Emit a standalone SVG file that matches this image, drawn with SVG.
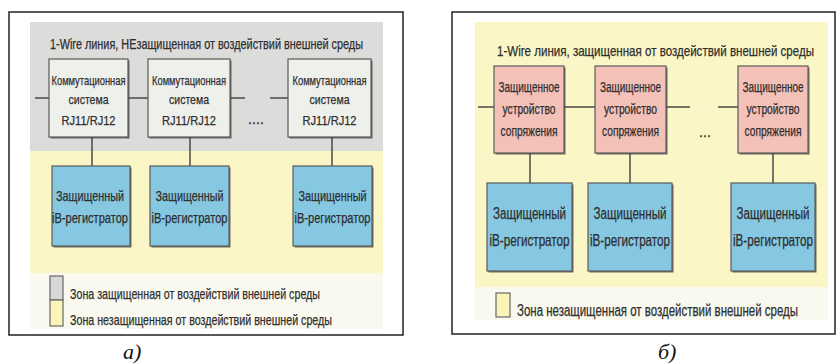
<svg xmlns="http://www.w3.org/2000/svg" width="837" height="363" viewBox="0 0 837 363">
<style>
.frame{fill:#fff;stroke:#222;stroke-width:1.5}
.t{font-family:"Liberation Sans Narrow","Liberation Sans",Arial,sans-serif;fill:#2e2e2e;text-anchor:middle;stroke:#2e2e2e;stroke-width:0.25}
.sw{fill:#3f3f3f;opacity:0.75}
.gbox{fill:#eef0ec;stroke:#5a5a5a;stroke-width:1.2}
.pbox{fill:#f4c1b9;stroke:#5a5a5a;stroke-width:1.2}
.bbox{fill:#86c7e2;stroke:#5a5a5a;stroke-width:1.2}
.ln{stroke:#4a4a4a;stroke-width:1.5;fill:none}
.cap{font-family:"Liberation Serif","Times New Roman",serif;font-style:italic;font-size:22px;fill:#111}
</style>
<rect x="0" y="0" width="837" height="363" fill="#fff"/>
<!-- Panel a -->
<g id="panel-a">
<rect class="frame" x="9" y="12" width="394" height="323"/>
<rect x="30" y="22" width="353" height="129" fill="#dcdcdb"/>
<rect x="30" y="151" width="353" height="122" fill="#faf6c6"/>
<rect x="30" y="273" width="353" height="56" fill="#f9f9f0"/>
<text class="t" x="206.5" y="49" font-size="15" textLength="313" lengthAdjust="spacingAndGlyphs">1-Wire линия,  НЕзащищенная от воздействий внешней среды</text>
</g>
<g id="connectors-a">
<line class="ln" x1="35" y1="98" x2="49" y2="98"/>
<line class="ln" x1="128" y1="98" x2="148" y2="98"/>
<line class="ln" x1="230" y1="98" x2="245" y2="98"/>
<line class="ln" x1="270" y1="98" x2="288" y2="98"/>
<line class="ln" x1="92" y1="137" x2="92" y2="166"/>
<line class="ln" x1="190" y1="137" x2="190" y2="166"/>
<line class="ln" x1="332" y1="137" x2="332" y2="166"/>
</g>
<text class="t" x="256" y="124" font-size="14" textLength="16" lengthAdjust="spacingAndGlyphs">....</text>
<g id="a-sw1"><rect class="sw" x="50.5" y="60.5" width="79" height="78"/><rect class="gbox" x="49" y="59" width="79" height="78"/>
<text class="t" font-size="13"><tspan x="88.5" y="85" textLength="74" lengthAdjust="spacingAndGlyphs">Коммутационная</tspan><tspan x="88.5" y="104" textLength="40" lengthAdjust="spacingAndGlyphs">система</tspan><tspan x="88.5" y="125" textLength="54" lengthAdjust="spacingAndGlyphs">RJ11/RJ12</tspan></text></g>
<g id="a-sw2"><rect class="sw" x="149.5" y="60.5" width="82" height="78"/><rect class="gbox" x="148" y="59" width="82" height="78"/>
<text class="t" font-size="13"><tspan x="189" y="85" textLength="74" lengthAdjust="spacingAndGlyphs">Коммутационная</tspan><tspan x="189" y="104" textLength="40" lengthAdjust="spacingAndGlyphs">система</tspan><tspan x="189" y="125" textLength="54" lengthAdjust="spacingAndGlyphs">RJ11/RJ12</tspan></text></g>
<g id="a-sw3"><rect class="sw" x="289.5" y="60.5" width="83" height="78"/><rect class="gbox" x="288" y="59" width="83" height="78"/>
<text class="t" font-size="13"><tspan x="329.5" y="85" textLength="74" lengthAdjust="spacingAndGlyphs">Коммутационная</tspan><tspan x="329.5" y="104" textLength="40" lengthAdjust="spacingAndGlyphs">система</tspan><tspan x="329.5" y="125" textLength="54" lengthAdjust="spacingAndGlyphs">RJ11/RJ12</tspan></text></g>
<g id="a-reg1"><rect class="sw" x="53.5" y="167.5" width="78" height="80"/><rect class="bbox" x="52" y="166" width="78" height="80"/>
<text class="t" font-size="15"><tspan x="90" y="201" textLength="68" lengthAdjust="spacingAndGlyphs">Защищенный</tspan><tspan x="90" y="223" textLength="76" lengthAdjust="spacingAndGlyphs">iB-регистратор</tspan></text></g>
<g id="a-reg2"><rect class="sw" x="151.5" y="167.5" width="79" height="80"/><rect class="bbox" x="150" y="166" width="79" height="80"/>
<text class="t" font-size="15"><tspan x="189.5" y="201" textLength="68" lengthAdjust="spacingAndGlyphs">Защищенный</tspan><tspan x="189.5" y="223" textLength="76" lengthAdjust="spacingAndGlyphs">iB-регистратор</tspan></text></g>
<g id="a-reg3"><rect class="sw" x="294.5" y="167.5" width="79" height="80"/><rect class="bbox" x="293" y="166" width="79" height="80"/>
<text class="t" font-size="15"><tspan x="332.5" y="201" textLength="68" lengthAdjust="spacingAndGlyphs">Защищенный</tspan><tspan x="332.5" y="223" textLength="76" lengthAdjust="spacingAndGlyphs">iB-регистратор</tspan></text></g>
<g id="a-legend">
<rect x="50" y="276" width="13" height="24" fill="#d8d8d8" stroke="#666" stroke-width="1.2"/>
<rect x="50" y="300" width="13" height="26" fill="#faf4b8" stroke="#666" stroke-width="1.2"/>
<text class="t" x="195" y="299" font-size="15" textLength="250" lengthAdjust="spacingAndGlyphs">Зона защищенная от воздействий внешней среды</text>
<text class="t" x="201" y="325" font-size="15" textLength="262" lengthAdjust="spacingAndGlyphs">Зона незащищенная от воздействий внешней среды</text>
</g>
<text class="cap" x="123" y="359">а)</text>
<!-- Panel b -->
<g id="panel-b">
<rect class="frame" x="452" y="12" width="383" height="322"/>
<rect x="475" y="22" width="353" height="265" fill="#faf6c6"/>
<rect x="475" y="287" width="353" height="33" fill="#f9f9f0"/>
<text class="t" x="655.5" y="56" font-size="14.5" textLength="317" lengthAdjust="spacingAndGlyphs">1-Wire линия, защищенная от воздействий внешней среды</text>
</g>
<g id="connectors-b">
<line class="ln" x1="478" y1="107" x2="494" y2="107"/>
<line class="ln" x1="564" y1="107" x2="595" y2="107"/>
<line class="ln" x1="666" y1="107" x2="690" y2="107"/>
<line class="ln" x1="718" y1="107" x2="738" y2="107"/>
<line class="ln" x1="530" y1="153" x2="530" y2="183"/>
<line class="ln" x1="630" y1="153" x2="630" y2="183"/>
<line class="ln" x1="773" y1="153" x2="773" y2="183"/>
</g>
<text class="t" x="705" y="137" font-size="14" textLength="12" lengthAdjust="spacingAndGlyphs">...</text>
<g id="b-dev1"><rect class="sw" x="495.5" y="67.5" width="70" height="87"/><rect class="pbox" x="494" y="66" width="70" height="87"/>
<text class="t" font-size="14"><tspan x="529" y="92" textLength="61" lengthAdjust="spacingAndGlyphs">Защищенное</tspan><tspan x="529" y="114" textLength="53" lengthAdjust="spacingAndGlyphs">устройство</tspan><tspan x="529" y="136" textLength="57" lengthAdjust="spacingAndGlyphs">сопряжения</tspan></text></g>
<g id="b-dev2"><rect class="sw" x="596.5" y="67.5" width="71" height="87"/><rect class="pbox" x="595" y="66" width="71" height="87"/>
<text class="t" font-size="14"><tspan x="630.5" y="92" textLength="61" lengthAdjust="spacingAndGlyphs">Защищенное</tspan><tspan x="630.5" y="114" textLength="53" lengthAdjust="spacingAndGlyphs">устройство</tspan><tspan x="630.5" y="136" textLength="57" lengthAdjust="spacingAndGlyphs">сопряжения</tspan></text></g>
<g id="b-dev3"><rect class="sw" x="739.5" y="67.5" width="70" height="87"/><rect class="pbox" x="738" y="66" width="70" height="87"/>
<text class="t" font-size="14"><tspan x="773" y="92" textLength="61" lengthAdjust="spacingAndGlyphs">Защищенное</tspan><tspan x="773" y="114" textLength="53" lengthAdjust="spacingAndGlyphs">устройство</tspan><tspan x="773" y="136" textLength="57" lengthAdjust="spacingAndGlyphs">сопряжения</tspan></text></g>
<g id="b-reg1"><rect class="sw" x="488.5" y="184.5" width="85" height="88"/><rect class="bbox" x="487" y="183" width="85" height="88"/>
<text class="t" font-size="16"><tspan x="529.5" y="219" textLength="73" lengthAdjust="spacingAndGlyphs">Защищенный</tspan><tspan x="529.5" y="246" textLength="80" lengthAdjust="spacingAndGlyphs">iB-регистратор</tspan></text></g>
<g id="b-reg2"><rect class="sw" x="589.5" y="184.5" width="84" height="88"/><rect class="bbox" x="588" y="183" width="84" height="88"/>
<text class="t" font-size="16"><tspan x="630" y="219" textLength="73" lengthAdjust="spacingAndGlyphs">Защищенный</tspan><tspan x="630" y="246" textLength="80" lengthAdjust="spacingAndGlyphs">iB-регистратор</tspan></text></g>
<g id="b-reg3"><rect class="sw" x="732.5" y="184.5" width="84" height="88"/><rect class="bbox" x="731" y="183" width="84" height="88"/>
<text class="t" font-size="16"><tspan x="773" y="219" textLength="73" lengthAdjust="spacingAndGlyphs">Защищенный</tspan><tspan x="773" y="246" textLength="80" lengthAdjust="spacingAndGlyphs">iB-регистратор</tspan></text></g>
<g id="b-legend">
<rect x="496" y="293" width="14" height="24" fill="#faf4b8" stroke="#666" stroke-width="1.2"/>
<text class="t" x="657.5" y="316" font-size="16" textLength="281" lengthAdjust="spacingAndGlyphs">Зона незащищенная от воздействий внешней среды</text>
</g>
<text class="cap" x="658" y="359">б)</text>
</svg>
